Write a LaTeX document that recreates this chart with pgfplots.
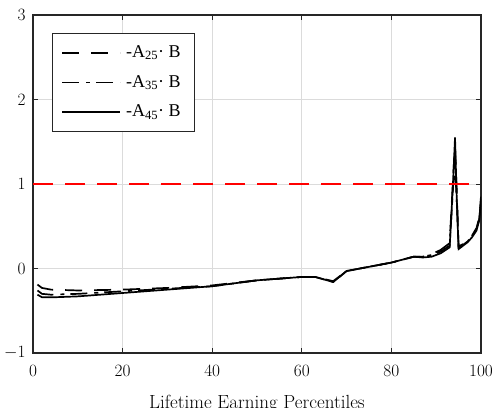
\documentclass[border=0pt]{standalone}
\usepackage{fontspec}
\newfontfamily\tnr{Liberation Serif}
\usepackage{pgfplots}
\pgfplotsset{compat=1.18}
\usetikzlibrary{calc}
\definecolor{axgray}{RGB}{38,38,38}

\begin{document}
\fontsize{19}{23}\selectfont
\begin{tikzpicture}
\begin{axis}[
    name=ax,
    scale only axis,
    width=448pt, height=338pt,
    xmin=0, xmax=100, ymin=-1, ymax=3,
    xtick={0,20,40,60,80,100},
    ytick={-1,0,1,2,3},
    tick align=inside,
    major tick length=5pt,
    axis line style={axgray, line width=1.1pt},
    tick style={axgray, line width=0.8pt},
    grid=major,
    grid style={line width=0.9pt, draw=gray!28},
    ticklabel style={font=\fontsize{19}{23}\selectfont},
    xticklabel style={yshift=-6pt},
    yticklabel style={xshift=-1pt},
    xlabel={Lifetime Earning Percentiles},
    xlabel style={font=\fontsize{19}{23}\selectfont, at={(axis description cs:0.5,0)}, anchor=base, yshift=-56pt},
    legend cell align=left,
    legend style={at={(0.042,0.947)}, anchor=north west,
        draw=axgray, line width=1pt, fill=white,
        font=\tnr\fontsize{18}{21}\selectfont,
        inner xsep=9pt, inner ysep=10pt, row sep=11pt,
        nodes={inner xsep=5pt}},
    legend image code/.code={\draw[#1] (0pt,0pt) -- (58pt,0pt);},
]
\addplot[black, line width=1.7pt, dash pattern=on 17pt off 12pt] coordinates {
    (1,-0.19) (2,-0.23) (4,-0.25) (10,-0.26) (20,-0.25) (30,-0.23)
    (40,-0.20) (50,-0.14) (60,-0.10) (63,-0.10) (67,-0.15) (70,-0.03)
    (80,0.07) (85,0.14) (87,0.14) (89,0.17) (91,0.22) (93,0.30)
    (93.8,1.10) (94.2,1.45) (94.6,0.90) (95,0.26) (96,0.29) (97,0.33)
    (98,0.39) (99,0.48) (99.6,0.60) (100,0.85)
};
\addplot[black, line width=1.7pt, dash pattern=on 17pt off 7pt on 4pt off 6pt] coordinates {
    (1,-0.26) (2,-0.30) (4,-0.31) (10,-0.30) (20,-0.27) (30,-0.24)
    (40,-0.21) (50,-0.14) (60,-0.10) (63,-0.10) (67,-0.16) (70,-0.03)
    (80,0.07) (85,0.14) (87,0.14) (89,0.16) (91,0.20) (93,0.27)
    (93.8,1.00) (94.2,1.20) (94.6,0.80) (95,0.25) (96,0.28) (97,0.32)
    (98,0.38) (99,0.46) (99.6,0.58) (100,0.82)
};
\addplot[black, line width=1.7pt] coordinates {
    (1,-0.31) (2,-0.34) (5,-0.34) (10,-0.33) (20,-0.29) (30,-0.25)
    (40,-0.21) (50,-0.14) (60,-0.10) (63,-0.10) (67,-0.16) (70,-0.03)
    (80,0.07) (85,0.14) (87,0.13) (89,0.14) (91,0.18) (93,0.25)
    (93.7,0.95) (94.2,1.55) (94.6,0.80) (95,0.23) (96,0.27) (97,0.31)
    (98,0.37) (99,0.45) (99.6,0.57) (100,0.80)
};
\addplot[red, line width=1.6pt, dash pattern=on 20pt off 12pt, forget plot] coordinates {(0,1) (100,1)};
\legend{-A\textsubscript{25}· B, -A\textsubscript{35}· B, -A\textsubscript{45}· B}
\end{axis}
\pgfresetboundingbox
\useasboundingbox ($(ax.south west)+(-33pt,-55pt)$) rectangle ($(ax.north east)+(16pt,15pt)$);
\end{tikzpicture}
\end{document}
